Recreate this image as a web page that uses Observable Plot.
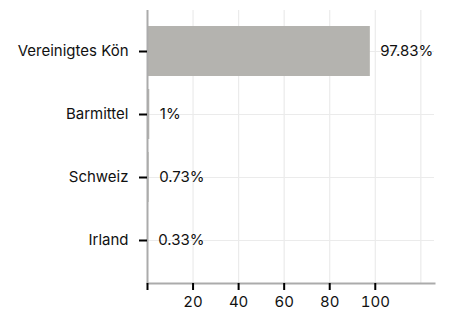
<!DOCTYPE html>
<html>
<head>
<meta charset="utf-8">
<script src="https://cdn.jsdelivr.net/npm/d3@7"></script>
<script src="https://cdn.jsdelivr.net/npm/@observablehq/plot@0.6"></script>
<style>
  html, body { margin: 0; padding: 0; background: #fff; }
</style>
</head>
<body>
<div id="chart"></div>
<script>
const categories = ["Vereinigtes Kön", "Barmittel", "Schweiz", "Irland"];
const values = [97.83, 1, 0.73, 0.33];
const labels = ["97.83%", "1%", "0.73%", "0.33%"];
const xTicks = [0, 20, 40, 60, 80, 100];
const xGrid = [20, 40, 60, 80, 100, 120];

const data = categories.map((name, i) => ({name, value: values[i], label: labels[i]}));

const chart = Plot.plot({
  width: 449,
  height: 313,
  marginLeft: 147,
  marginRight: 15,
  marginTop: 10,
  marginBottom: 30,
  style: {fontFamily: "Inter, sans-serif", fontSize: "15px", color: "#111", background: "#fff"},
  x: {domain: [0, 126]},
  y: {domain: categories, range: [19.5, 271.5], paddingInner: 0.2, paddingOuter: 0.1},
  marks: [
    Plot.gridX(xGrid, {stroke: "#ebebeb", strokeOpacity: 1, strokeWidth: 1.2}),
    Plot.gridY(categories, {stroke: "#ebebeb", strokeOpacity: 1, strokeWidth: 1.2}),
    Plot.barX(data, {x: "value", y: "name", fill: "#b4b3af"}),
    Plot.text(data, {x: "value", y: "name", text: "label", dx: 10, textAnchor: "start", fill: "#111", fontSize: 15}),
    Plot.ruleX([0], {stroke: "#ababab", strokeWidth: 2}),
    Plot.frame({anchor: "bottom", stroke: "#ababab", strokeWidth: 2}),
    Plot.axisX({ticks: xTicks, tickFormat: d => d === 0 ? "" : d, tickSize: 7, tickPadding: 6, stroke: "#000", strokeWidth: 2, fontSize: 15, label: null}),
    Plot.axisY({tickSize: 8, tickPadding: 11, stroke: "#000", strokeWidth: 2, fontSize: 15, label: null})
  ]
});
document.getElementById("chart").append(chart);
</script>
</body>
</html>
